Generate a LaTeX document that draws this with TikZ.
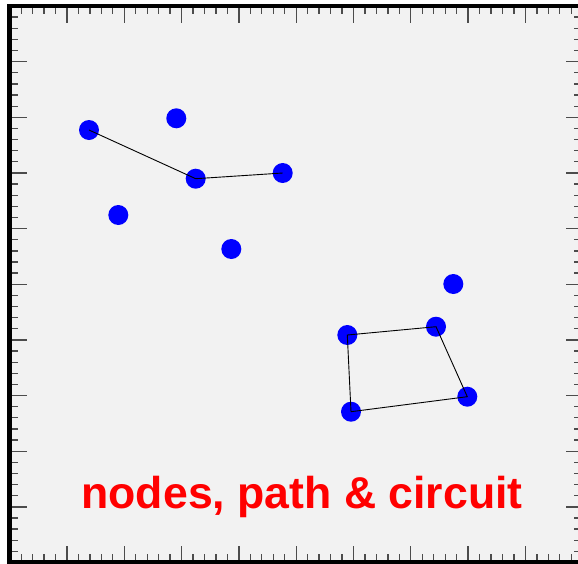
\documentclass[tikz,border=0pt]{standalone}
\usepackage{fontspec}
\setmainfont{Liberation Sans}

\begin{document}
\begin{tikzpicture}[x=1pt, y=-1pt,
    dot/.style={circle, fill=blue, inner sep=0pt, minimum size=20pt},
    link/.style={black, line width=0.9pt},
    tickmark/.style={black!70, line width=1.3pt}]
    % 描画範囲と背景
    \useasboundingbox (0,0) rectangle (578,563);
    \clip (0,0) rectangle (578,563);
    \fill[white] (0,0) rectangle (578,563);
    \fill[black!5] (9.5,6) rectangle (582,562.5);

    % 目盛り（小）
    \foreach \i in {1,...,49} {
        \draw[tickmark] ({9.7+11.46*\i},8) -- ++(0,6);
        \draw[tickmark] ({9.7+11.46*\i},560) -- ++(0,-6);
        \draw[tickmark] (12,{6+11.13*\i}) -- ++(6,0);
        \draw[tickmark] (580,{6+11.13*\i}) -- ++(-6,0);
    }
    % 目盛り（大）
    \foreach \i in {1,...,9} {
        \draw[tickmark] ({9.7+57.3*\i},8) -- ++(0,14.5);
        \draw[tickmark] ({9.7+57.3*\i},560) -- ++(0,-14.5);
        \draw[tickmark] (12,{6+55.65*\i}) -- ++(14.5,0);
        \draw[tickmark] (580,{6+55.65*\i}) -- ++(-14.5,0);
    }

    % 枠
    \draw[line width=4.5pt] (9.5,6) rectangle (582,562.5);

    % 点
    \node[dot] (a) at (89,130) {};
    \node[dot] (b) at (176.3,118.3) {};
    \node[dot] (c) at (195.7,178.7) {};
    \node[dot] (d) at (282.7,173) {};
    \node[dot] (e) at (118.3,215) {};
    \node[dot] (f) at (231.3,249) {};
    \node[dot] (g) at (453.3,284) {};
    \node[dot] (h) at (436,326.7) {};
    \node[dot] (i) at (347.3,335) {};
    \node[dot] (j) at (351,411.7) {};
    \node[dot] (k) at (467.3,396.7) {};

    % パス
    \draw[link] (a.center) -- (c.center) -- (d.center);
    % 回路
    \draw[link] (i.center) -- (h.center) -- (k.center) -- (j.center) -- cycle;

    % 表題
    \node[text=red, font=\bfseries\fontsize{44.6}{50}\selectfont, anchor=base] (title) at (302,508.3) {nodes, path \& circuit};
\end{tikzpicture}
\end{document}
